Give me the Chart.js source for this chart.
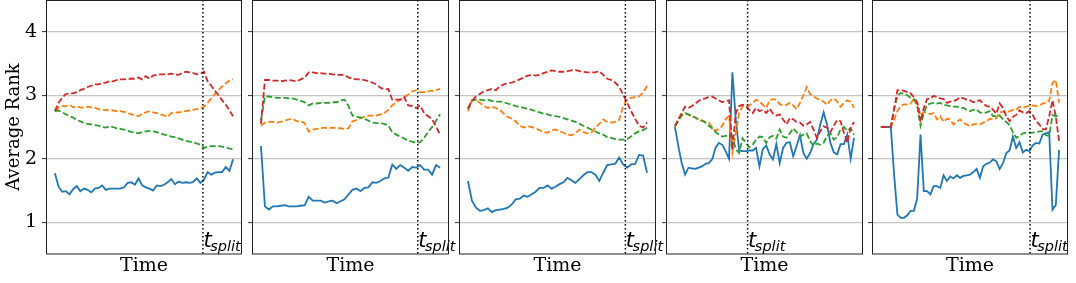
<!DOCTYPE html>
<html>
<head>
<meta charset="utf-8">
<script src="https://cdn.jsdelivr.net/npm/chart.js@4.4.0/dist/chart.umd.min.js"></script>
<style>
html, body { margin: 0; padding: 0; background: #fff; }
#wrap { position: relative; width: 1076px; height: 283px; overflow: hidden; }
#wrap canvas { position: absolute; top: 0; }
</style>
</head>
<body>
<div id="wrap"></div>
<script>
// average rank per time step, one set of four series per panel
var blue1 = [1.77,1.56,1.48,1.49,1.44,1.52,1.57,1.49,1.53,1.51,1.47,1.53,1.54,1.58,1.51,1.53,1.53,1.53,1.53,1.55,
    1.62,1.63,1.59,1.69,1.58,1.55,1.53,1.50,1.58,1.57,1.59,1.63,1.68,1.60,1.64,1.62,1.63,1.62,1.63,1.69,
    1.62,1.67,1.79,1.75,1.78,1.79,1.79,1.87,1.81,1.99];
var orange1 = [2.75,2.81,2.83,2.83,2.85,2.81,2.82,2.81,2.80,2.82,2.81,2.80,2.78,2.77,2.77,2.76,2.76,2.75,2.75,2.74,
    2.72,2.70,2.69,2.67,2.71,2.73,2.75,2.73,2.72,2.70,2.68,2.66,2.72,2.73,2.73,2.74,2.75,2.76,2.77,2.78,
    2.79,2.82,2.88,2.95,3.02,3.08,3.14,3.19,3.23,3.25];
var green1 = [2.75,2.76,2.73,2.70,2.67,2.65,2.61,2.59,2.56,2.55,2.54,2.53,2.52,2.50,2.49,2.51,2.50,2.48,2.47,2.46,
    2.44,2.42,2.41,2.40,2.42,2.43,2.44,2.43,2.42,2.40,2.38,2.37,2.35,2.34,2.32,2.30,2.28,2.27,2.26,2.24,
    2.22,2.17,2.19,2.20,2.20,2.20,2.19,2.18,2.16,2.15];
var red1 = [2.75,2.88,2.96,3.02,3.03,3.03,3.05,3.08,3.10,3.13,3.15,3.17,3.17,3.19,3.20,3.22,3.22,3.24,3.25,3.25,
    3.26,3.26,3.26,3.28,3.25,3.30,3.26,3.31,3.32,3.33,3.33,3.33,3.34,3.33,3.32,3.35,3.37,3.36,3.35,3.33,
    3.34,3.37,3.22,3.15,3.07,3.00,2.92,2.85,2.76,2.67];

var blue2 = [2.20,1.25,1.20,1.25,1.25,1.26,1.27,1.25,1.25,1.25,1.26,1.27,1.40,1.34,1.34,1.34,1.31,1.33,1.34,1.30,
    1.33,1.36,1.44,1.51,1.53,1.49,1.54,1.55,1.63,1.62,1.65,1.69,1.70,1.91,1.84,1.90,1.86,1.81,1.87,1.86,
    1.90,1.83,1.83,1.75,1.90,1.86];
var orange2 = [2.52,2.57,2.58,2.58,2.57,2.58,2.60,2.62,2.63,2.59,2.59,2.56,2.43,2.46,2.47,2.48,2.49,2.48,2.49,2.48,
    2.48,2.47,2.48,2.59,2.61,2.64,2.66,2.68,2.68,2.68,2.70,2.72,2.77,2.84,2.89,2.93,2.97,3.01,3.06,3.08,
    3.05,3.05,3.06,3.07,3.08,3.10];
var green2 = [2.60,2.98,2.98,2.97,2.96,2.96,2.96,2.95,2.95,2.93,2.91,2.89,2.84,2.87,2.87,2.88,2.88,2.88,2.89,2.89,
    2.92,2.93,2.83,2.68,2.66,2.65,2.63,2.60,2.57,2.56,2.56,2.55,2.52,2.42,2.38,2.35,2.32,2.28,2.27,2.25,
    2.26,2.33,2.42,2.50,2.60,2.70];
var red2 = [2.55,3.24,3.24,3.23,3.23,3.22,3.23,3.24,3.23,3.22,3.25,3.28,3.36,3.36,3.35,3.35,3.34,3.34,3.33,3.32,
    3.32,3.32,3.28,3.26,3.25,3.25,3.24,3.22,3.20,3.17,3.12,3.09,3.10,2.93,2.93,2.93,2.97,2.84,2.83,2.80,
    2.84,2.72,2.67,2.62,2.51,2.38];

var blue3 = [1.65,1.34,1.23,1.18,1.19,1.22,1.16,1.19,1.20,1.21,1.23,1.28,1.36,1.37,1.42,1.40,1.44,1.48,1.54,1.54,
    1.58,1.53,1.56,1.60,1.63,1.70,1.66,1.62,1.68,1.74,1.79,1.79,1.75,1.65,1.78,1.90,1.91,1.92,2.02,1.91,
    1.86,1.91,1.92,2.06,2.05,1.78];
var orange3 = [2.75,2.91,2.93,2.88,2.83,2.80,2.82,2.80,2.77,2.71,2.66,2.63,2.59,2.52,2.49,2.51,2.50,2.48,2.45,2.42,
    2.41,2.45,2.46,2.43,2.41,2.38,2.37,2.40,2.46,2.42,2.40,2.41,2.49,2.55,2.62,2.58,2.57,2.58,2.61,2.83,
    2.93,2.96,2.97,2.98,3.04,3.15];
var green3 = [2.78,2.92,2.93,2.93,2.92,2.93,2.91,2.90,2.90,2.89,2.87,2.85,2.83,2.82,2.80,2.79,2.77,2.75,2.73,2.71,
    2.70,2.68,2.67,2.66,2.64,2.62,2.60,2.58,2.55,2.52,2.49,2.46,2.43,2.40,2.38,2.34,2.33,2.31,2.30,2.30,
    2.31,2.35,2.40,2.43,2.45,2.49];
var red3 = [2.80,2.91,2.98,3.02,3.06,3.08,3.10,3.08,3.14,3.17,3.19,3.20,3.22,3.25,3.28,3.31,3.32,3.31,3.32,3.35,
    3.37,3.39,3.38,3.37,3.37,3.38,3.39,3.40,3.38,3.37,3.36,3.36,3.36,3.38,3.32,3.26,3.24,3.20,3.13,3.01,
    2.88,2.75,2.63,2.52,2.49,2.57];

var blue4 = [2.50,2.20,1.93,1.75,1.86,1.85,1.84,1.86,1.88,1.92,1.93,1.99,2.17,2.25,2.22,2.12,2.00,3.36,2.62,2.13,
    2.12,2.12,2.13,2.13,2.17,1.88,2.15,2.21,2.07,1.99,2.23,1.93,2.17,2.25,2.26,2.04,2.20,2.37,2.09,2.00,
    2.09,2.23,2.30,2.54,2.73,2.54,2.25,2.10,2.07,2.23,2.23,2.38,2.00,2.33];
var orange4 = [2.51,2.62,2.70,2.72,2.69,2.66,2.65,2.61,2.60,2.58,2.57,2.50,2.44,2.47,2.52,2.62,2.68,2.10,2.40,2.72,
    2.83,2.82,2.84,2.88,2.93,2.90,2.85,2.80,2.92,2.94,2.93,2.86,2.84,2.85,2.88,2.84,2.78,2.88,3.00,3.13,
    3.02,2.98,2.95,2.92,2.90,2.85,2.92,2.95,2.90,2.82,2.88,2.92,2.90,2.80];
var green4 = [2.51,2.60,2.68,2.72,2.70,2.67,2.65,2.62,2.60,2.57,2.52,2.48,2.42,2.38,2.35,2.36,2.37,2.35,2.15,2.09,
    2.32,2.25,2.18,2.22,2.30,2.35,2.34,2.25,2.34,2.36,2.32,2.46,2.35,2.33,2.40,2.48,2.42,2.35,2.38,2.40,
    2.28,2.20,2.24,2.22,2.25,2.36,2.40,2.30,2.34,2.46,2.50,2.44,2.48,2.38];
var red4 = [2.51,2.62,2.72,2.82,2.80,2.83,2.87,2.91,2.94,2.95,2.97,2.98,2.95,2.92,2.89,2.91,2.92,2.15,2.72,2.83,
    2.85,2.83,2.77,2.72,2.80,2.75,2.77,2.72,2.79,2.71,2.68,2.70,2.62,2.54,2.64,2.62,2.58,2.57,2.52,2.54,
    2.58,2.46,2.33,2.43,2.51,2.49,2.42,2.52,2.61,2.59,2.41,2.25,2.49,2.58];

var blue5 = [2.50,2.50,2.50,2.50,1.75,1.12,1.07,1.07,1.11,1.18,1.18,1.38,2.38,1.49,1.49,1.44,1.57,1.57,1.54,1.74,
    1.65,1.72,1.69,1.74,1.70,1.73,1.74,1.75,1.79,1.84,1.70,1.88,1.92,1.94,1.99,1.96,1.84,1.93,2.09,2.13,
    2.35,2.17,2.26,2.10,2.14,2.12,2.21,2.25,2.24,2.38,2.40,2.42,1.20,1.27,2.14];
var orange5 = [2.50,2.50,2.50,2.50,2.62,2.75,2.83,2.86,2.85,2.87,2.94,2.90,2.68,2.73,2.73,2.70,2.72,2.62,2.67,2.58,
    2.63,2.62,2.54,2.58,2.62,2.57,2.54,2.51,2.54,2.55,2.54,2.57,2.59,2.63,2.62,2.64,2.73,2.74,2.72,2.75,
    2.77,2.77,2.82,2.80,2.82,2.83,2.84,2.83,2.84,2.87,2.88,2.91,3.19,3.24,2.88];
var green5 = [2.50,2.50,2.50,2.50,2.80,2.98,3.04,3.02,3.00,2.96,2.94,2.84,2.52,2.72,2.85,2.87,2.88,2.87,2.88,2.85,
    2.84,2.83,2.82,2.82,2.80,2.80,2.77,2.75,2.77,2.78,2.73,2.72,2.73,2.75,2.67,2.67,2.68,2.62,2.58,2.53,
    2.42,2.33,2.36,2.40,2.41,2.41,2.41,2.42,2.43,2.43,2.37,2.36,2.69,2.67,2.69];
var red5 = [2.50,2.50,2.50,2.50,2.77,3.08,3.08,3.07,3.05,3.03,2.97,2.88,2.58,2.80,2.94,2.95,2.99,2.97,2.95,2.94,
    2.88,2.90,2.91,2.93,2.97,2.95,2.93,2.92,2.89,2.91,2.92,2.87,2.83,2.82,2.77,2.71,2.87,2.80,2.67,2.59,
    2.66,2.69,2.76,2.73,2.72,2.75,2.69,2.59,2.54,2.47,2.46,2.67,2.92,2.67,2.28];

// time step where the split happens, per panel
var splits = [40.7, 39.4, 39.55, 21.5, 45.2];
var yTicks = [1, 2, 3, 4];

var panels = [
    [blue1, orange1, green1, red1],
    [blue2, orange2, green2, red2],
    [blue3, orange3, green3, red3],
    [blue4, orange4, green4, red4],
    [blue5, orange5, green5, red5]
];
var colors = ["#1f77b4", "#ff7f0e", "#2ca02c", "#d62728"];
var boxes = [[46, 242], [252, 449], [459, 656], [666, 863], [872, 1068]];
var serif = "'DejaVu Serif', 'Liberation Serif', serif";
var overhang = 12;   // room right of each box for the t_split label

var splitPlugin = {
    id: "split",
    afterDatasetsDraw: function(chart, args, opts) {
        var ctx = chart.ctx, a = chart.chartArea;
        var px = chart.scales.x.getPixelForValue(opts.at);
        ctx.save();
        ctx.strokeStyle = "#000";
        ctx.lineWidth = 1.5;
        ctx.setLineDash([1.5, 2.5]);
        ctx.beginPath();
        ctx.moveTo(px, a.top);
        ctx.lineTo(px, a.bottom);
        ctx.stroke();
        ctx.setLineDash([]);

        ctx.fillStyle = "#000";
        ctx.textBaseline = "alphabetic";
        ctx.font = "italic 21px 'DejaVu Sans'";
        ctx.fillText("t", px + 0.5, a.bottom - 7);
        var tw = ctx.measureText("t").width;
        ctx.font = "italic 14.5px 'DejaVu Sans'";
        ctx.fillText("split", px + tw - 1, a.bottom - 3);

        ctx.strokeStyle = "#222";
        ctx.lineWidth = 1;
        ctx.strokeRect(a.left + 0.5, a.top + 0.5, a.right - a.left - 1, a.bottom - a.top - 0.5);
        ctx.restore();
    }
};

var wrap = document.getElementById("wrap");

function buildPanel(k) {
    var first = k == 0;
    var yw = first ? 46 : 6;
    var w = boxes[k][1] - boxes[k][0] + yw + 1 + overhang;
    var canvas = document.createElement("canvas");
    canvas.width = w;
    canvas.height = 283;
    canvas.style.left = (boxes[k][0] - yw) + "px";
    canvas.style.width = w + "px";
    canvas.style.height = "283px";
    wrap.appendChild(canvas);

    var series = panels[k];
    var n = series[0].length;
    var datasets = series.map(function(vals, j) {
        return {
            data: vals.map(function(v, i) { return {x: i, y: v}; }),
            borderColor: colors[j],
            borderWidth: 1.8,
            borderDash: j == 0 ? [] : [6, 2.6],
            pointRadius: 0,
            fill: false,
            order: 4 - j
        };
    });

    new Chart(canvas, {
        type: "line",
        data: {datasets: datasets},
        options: {
            responsive: false,
            animation: false,
            devicePixelRatio: 1,
            layout: {padding: {top: 0, right: 1 + overhang, left: 0, bottom: 0}},
            plugins: {legend: {display: false}, tooltip: {enabled: false}, split: {at: splits[k]}},
            elements: {line: {tension: 0}},
            scales: {
                x: {
                    type: "linear",
                    min: -0.05 * (n - 1),
                    max: 1.05 * (n - 1),
                    ticks: {display: false},
                    grid: {display: false},
                    border: {display: false},
                    title: {display: true, text: "Time", color: "#000",
                        font: {family: serif, size: 19}, padding: {top: 0, bottom: 6}},
                    afterFit: function(s) {
                        s.height = 29;
                        s.paddingLeft = 0;
                        s.paddingRight = 0;
                    }
                },
                y: {
                    min: 0.5,
                    max: 4.5,
                    afterBuildTicks: function(s) {
                        s.ticks = yTicks.map(function(v) { return {value: v}; });
                    },
                    ticks: {display: first, color: "#000", padding: 5,
                        font: {family: serif, size: 19}},
                    grid: {color: "#c4c4c4", lineWidth: 1.2, tickColor: "#333", tickLength: 4, tickWidth: 1},
                    border: {display: false},
                    title: {display: first, text: "Average Rank", color: "#000",
                        font: {family: serif, size: 18}, padding: {top: 4, bottom: 0}},
                    afterFit: function(s) {
                        s.width = yw;
                        s.paddingTop = 0;
                        s.paddingBottom = 0;
                    }
                }
            }
        },
        plugins: [splitPlugin]
    });
}

for (var k = 0; k < panels.length; k++) {
    buildPanel(k);
}
</script>
</body>
</html>
